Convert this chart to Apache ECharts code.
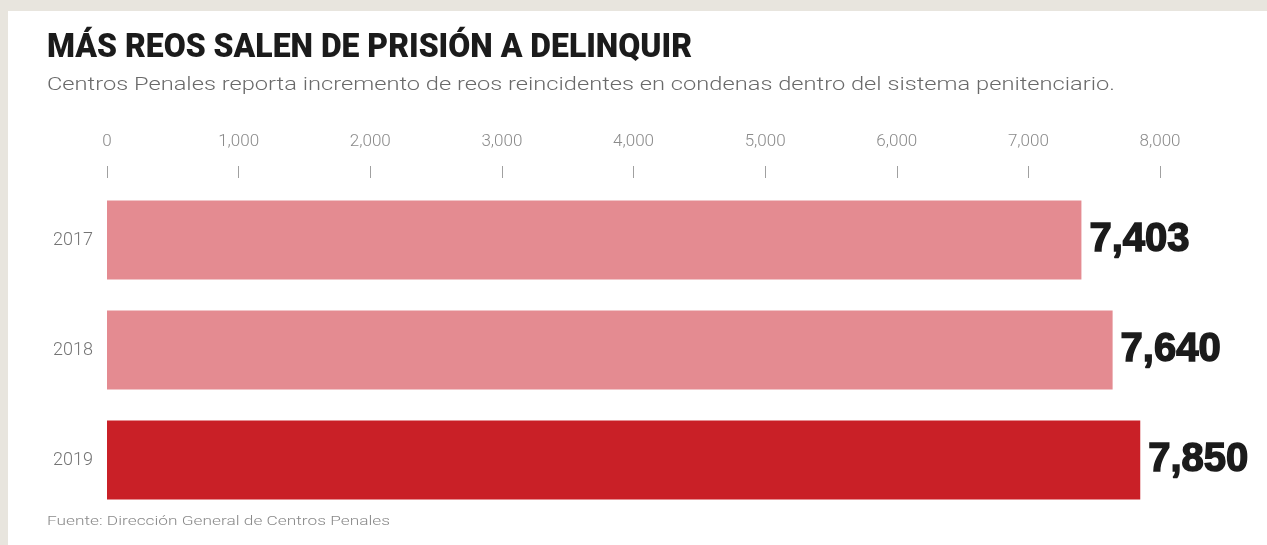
<!DOCTYPE html>
<html>
<head>
<meta charset="utf-8">
<script src="https://cdn.jsdelivr.net/npm/echarts@6/dist/echarts.min.js"></script>
<style>
  html, body { margin: 0; padding: 0; background: #e8e5de; }
  #chart { width: 1267px; height: 545px; }
</style>
</head>
<body>
<div id="chart"></div>
<script>
// Reincidentes por año (Dirección General de Centros Penales)
const years = ['2017', '2018', '2019'];
const reincidentes = [7403, 7640, 7850];
const barColors = ['#e48b91', '#e48b91', '#c92027'];
const axisMin = 0;
const axisMax = 8000;
const axisStep = 1000;

const titleText = 'MÁS REOS SALEN DE PRISIÓN A DELINQUIR';
const subtitleText = 'Centros Penales reporta incremento de reos reincidentes en condenas dentro del sistema penitenciario.';
const sourceText = 'Fuente: Dirección General de Centros Penales';

// Horizontal scale that makes a text run span a given width
const measureCtx = document.createElement('canvas').getContext('2d');
function fitScale(text, font, width) {
  measureCtx.font = font;
  return width / measureCtx.measureText(text).width;
}

const titleFont = '900 34px Roboto';
const subFont = '300 19px Roboto';
const srcFont = '300 13px Roboto';

const chart = echarts.init(document.getElementById('chart'));
chart.setOption({
  backgroundColor: '#e8e5de',
  animation: false,
  graphic: [
    { type: 'rect', z: -10, shape: { x: 8, y: 11, width: 1259, height: 534 }, style: { fill: '#ffffff' } },
    { type: 'text', x: 47, y: 48, scaleX: fitScale(titleText, titleFont, 645),
      style: { x: 0, y: 0, text: titleText, font: titleFont, fill: '#1b1b1b', verticalAlign: 'middle' } },
    { type: 'text', x: 47, y: 85, scaleX: fitScale(subtitleText, subFont, 1068),
      style: { x: 0, y: 0, text: subtitleText, font: subFont, fill: '#6a6a6a', verticalAlign: 'middle' } },
    { type: 'text', x: 47, y: 522, scaleX: fitScale(sourceText, srcFont, 343),
      style: { x: 0, y: 0, text: sourceText, font: srcFont, fill: '#8a8a8a', verticalAlign: 'middle' } }
  ],
  grid: { left: 107, right: 107, top: 185, bottom: 30, containLabel: false },
  xAxis: {
    type: 'value',
    position: 'top',
    min: axisMin,
    max: axisMax,
    interval: axisStep,
    offset: 7,
    axisLine: { show: false },
    axisTick: { show: true, length: 12, lineStyle: { color: '#a0a0a0', width: 1 } },
    splitLine: { show: false },
    axisLabel: {
      margin: 28,
      color: '#8a8a8a',
      fontFamily: 'Roboto',
      fontWeight: 300,
      fontSize: 17,
      formatter: v => v.toLocaleString('en-US')
    }
  },
  yAxis: {
    type: 'category',
    data: years,
    inverse: true,
    axisLine: { show: false },
    axisTick: { show: false },
    axisLabel: { margin: 14, color: '#747474', fontFamily: 'Roboto', fontWeight: 300, fontSize: 18 }
  },
  series: [{
    type: 'bar',
    barWidth: 79,
    data: reincidentes.map((v, i) => ({ value: v, itemStyle: { color: barColors[i] } })),
    label: {
      show: true,
      position: 'right',
      distance: 8,
      color: '#1b1b1b',
      fontFamily: 'Liberation Sans',
      fontWeight: 'bold',
      fontSize: 40,
      textBorderColor: '#1b1b1b',
      textBorderWidth: 1.5,
      formatter: p => p.value.toLocaleString('en-US')
    }
  }]
});
</script>
</body>
</html>
